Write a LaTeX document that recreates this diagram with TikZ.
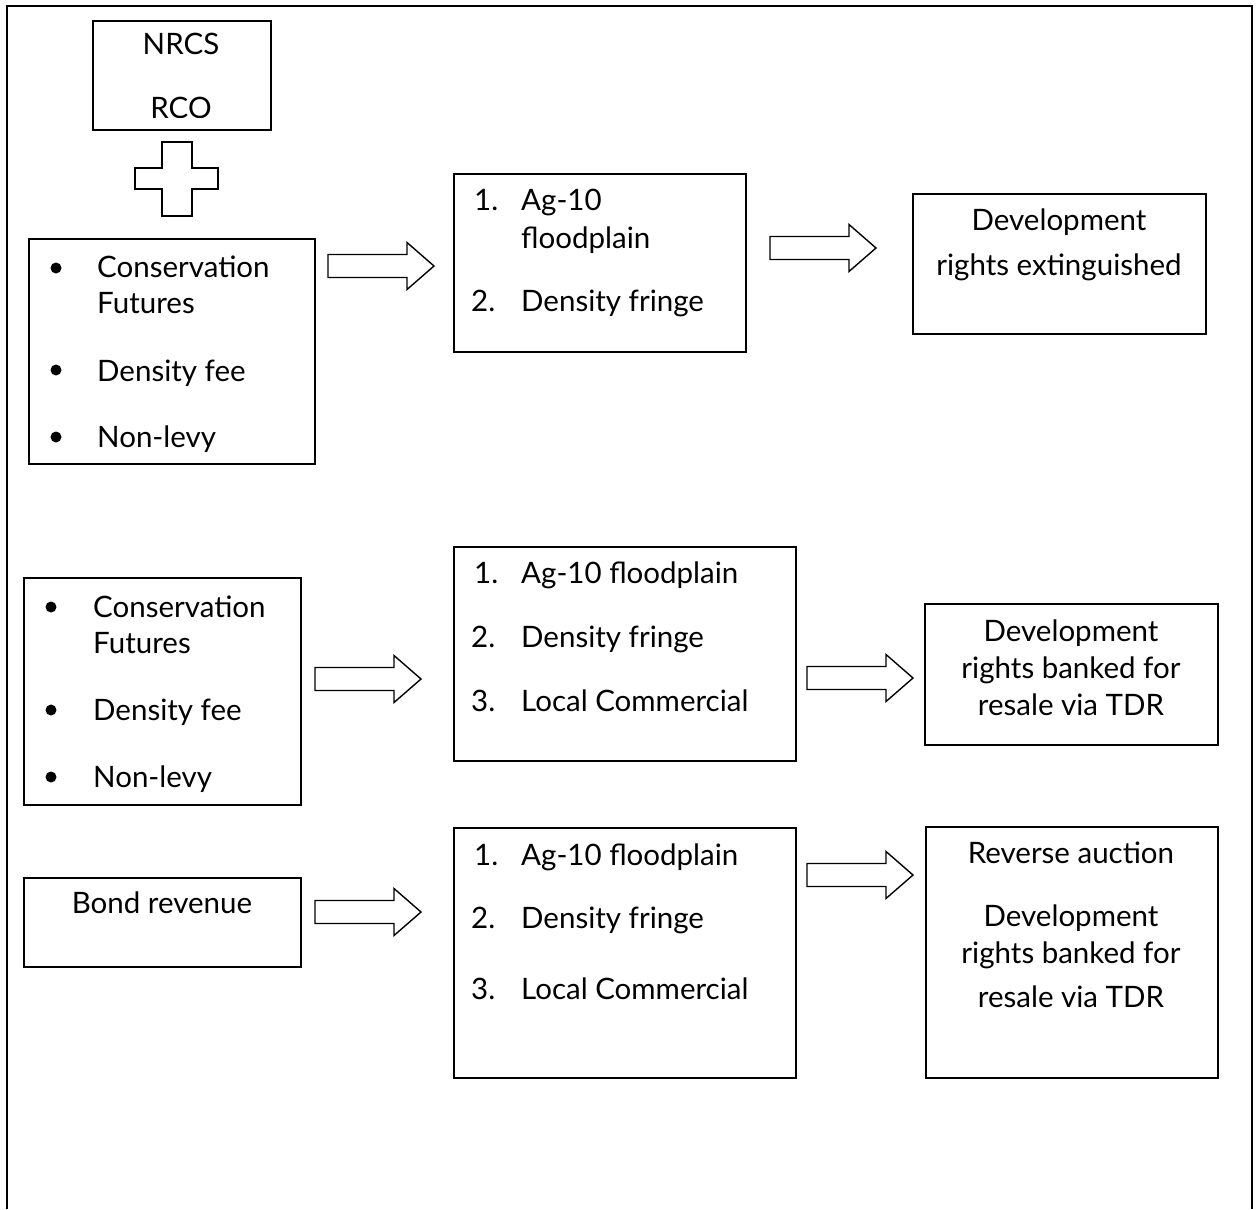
\documentclass[tikz,border=0pt]{standalone}
\usepackage{fontspec}
\setmainfont{Lato}
\begin{document}
\begin{tikzpicture}[x=1pt,y=-1pt,
  box/.style={draw, line width=1.7pt, inner sep=0pt, anchor=north west},
  txt/.style={inner sep=0pt, anchor=base west, font=\fontsize{29.5}{35}\selectfont},
  ctxt/.style={inner sep=0pt, anchor=base, font=\fontsize{29.5}{35}\selectfont},
  dot/.style={circle, fill, inner sep=0pt, minimum size=11pt},
  blockarrow/.pic={\draw[line width=1.4pt, line join=miter, fill=white]
    (-106,-11.5) -- (-27,-11.5) -- (-27,-23.5) -- (0,0) -- (-27,23.5) -- (-27,11.5) -- (-106,11.5) -- cycle;}]
\useasboundingbox (0,0) rectangle (1257,1209);
\fill[white] (0,0) rectangle (1257,1209);
% outer frame (open at bottom)
\draw[line width=1.8pt] (7,1209) -- (7,6) -- (1252,6) -- (1252,1209);

% NRCS / RCO box
\node[box, minimum width=178pt, minimum height=109pt] (nrcs) at (92,20) {};
\node[ctxt] (tnrcs) at (181,55) {NRCS};
\begin{scope}
  \clip (93,21) rectangle (269,117.5);
  \node[ctxt] (trco) at (181,119) {RCO};
\end{scope}

% plus sign
\draw[line width=1.4pt, line join=miter] (162,142) -- (192,142) -- (192,168) -- (218,168) -- (218,189) -- (192,189) -- (192,216) -- (162,216) -- (162,189) -- (135,189) -- (135,168) -- (162,168) -- cycle;

% Row 1
\node[box, minimum width=286pt, minimum height=225pt] (A1) at (28,238) {};
\node[dot] (a1d1) at (56,268) {};
\node[dot] (a1d2) at (56,370) {};
\node[dot] (a1d3) at (56,437) {};
\node[txt] (a1t1) at (97,277) {Conservation};
\node[txt] (a1t2) at (97,313) {Futures};
\node[txt] (a1t3) at (97,381) {Density fee};
\node[txt] (a1t4) at (97,447) {Non-levy};

\pic (ar1) at (434,266) {blockarrow};

\node[box, minimum width=292pt, minimum height=178pt] (B1) at (453,173) {};
\node[txt] (b1n1) at (474,211) {1.};
\node[txt] (b1t1) at (521,211) {Ag-10};
\node[txt] (b1t2) at (521,248) {floodplain};
\node[txt] (b1n2) at (471,311) {2.};
\node[txt] (b1t3) at (521,311) {Density fringe};

\pic (ar2) at (876,248) {blockarrow};

\node[box, minimum width=293pt, minimum height=140pt] (C1) at (912,193) {};
\node[ctxt] (c1t1) at (1059,230) {Development};
\node[ctxt] (c1t2) at (1059,275) {rights extinguished};

% Row 2
\node[box, minimum width=277pt, minimum height=227pt] (A2) at (23,577) {};
\node[dot] (a2d1) at (51,607) {};
\node[dot] (a2d2) at (51,710) {};
\node[dot] (a2d3) at (51,777) {};
\node[txt] (a2t1) at (93,617) {Conservation};
\node[txt] (a2t2) at (93,653) {Futures};
\node[txt] (a2t3) at (93,720) {Density fee};
\node[txt] (a2t4) at (93,787) {Non-levy};

\pic (ar3) at (421,679) {blockarrow};

\node[box, minimum width=342pt, minimum height=214pt] (B2) at (453,546) {};
\node[txt] (b2n1) at (474,583) {1.};
\node[txt] (b2t1) at (521,583) {Ag-10 floodplain};
\node[txt] (b2n2) at (471,647) {2.};
\node[txt] (b2t2) at (521,647) {Density fringe};
\node[txt] (b2n3) at (471,711) {3.};
\node[txt] (b2t3) at (521,711) {Local Commercial};

\pic (ar4) at (913,678) {blockarrow};

\node[box, minimum width=293pt, minimum height=141pt] (C2) at (924,603) {};
\node[ctxt] (c2t1) at (1071,641) {Development};
\node[ctxt] (c2t2) at (1071,678) {rights banked for};
\node[ctxt] (c2t3) at (1071,715) {resale via TDR};

% Row 3
\node[box, minimum width=277pt, minimum height=89pt] (A3) at (23,877) {};
\node[ctxt] (a3t1) at (162,913) {Bond revenue};

\pic (ar5) at (421,912) {blockarrow};

\node[box, minimum width=342pt, minimum height=250pt] (B3) at (453,827) {};
\node[txt] (b3n1) at (474,865) {1.};
\node[txt] (b3t1) at (521,865) {Ag-10 floodplain};
\node[txt] (b3n2) at (471,928) {2.};
\node[txt] (b3t2) at (521,928) {Density fringe};
\node[txt] (b3n3) at (471,999) {3.};
\node[txt] (b3t3) at (521,999) {Local Commercial};

\pic (ar6) at (913,875) {blockarrow};

\node[box, minimum width=292pt, minimum height=251pt] (C3) at (925,826) {};
\node[ctxt] (c3t1) at (1071,863) {Reverse auction};
\node[ctxt] (c3t2) at (1071,926) {Development};
\node[ctxt] (c3t3) at (1071,963) {rights banked for};
\node[ctxt] (c3t4) at (1071,1007) {resale via TDR};
\end{tikzpicture}
\end{document}
